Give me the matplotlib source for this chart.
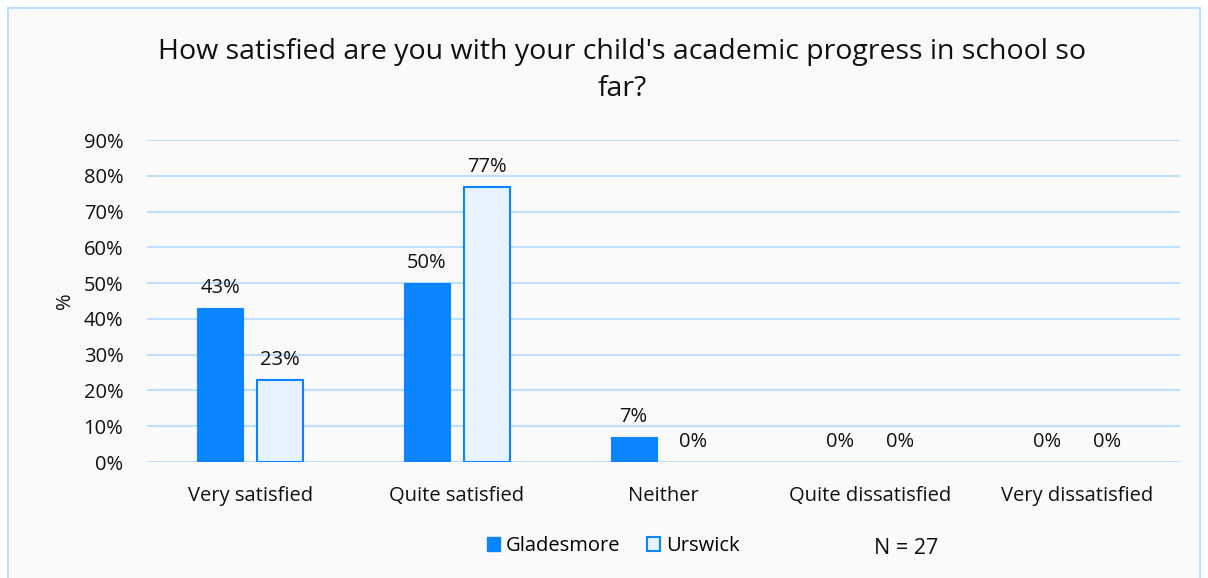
import matplotlib
matplotlib.use("Agg")
import matplotlib.pyplot as plt
from matplotlib.patches import Rectangle, Patch
import numpy as np

categories = ["Very satisfied", "Quite satisfied", "Neither", "Quite dissatisfied", "Very dissatisfied"]
gladesmore = [43, 50, 7, 0, 0]
urswick = [23, 77, 0, 0, 0]
series_names = ["Gladesmore", "Urswick"]
yticks = [0, 10, 20, 30, 40, 50, 60, 70, 80, 90]
title = "How satisfied are you with your child's academic progress in school so\nfar?"

plt.rcParams['font.family'] = ['Open Sans', 'DejaVu Sans']

blue = "#0A84FF"
light = "#E6F2FF"
grid = "#BEDFFF"
fs = 14.5

fig = plt.figure(figsize=(12.08, 5.78), dpi=100)
fig.patch.set_facecolor("white")
bg = Rectangle((8/1208, -0.05), (1200-8)/1208, 1 - 8/578 + 0.05, transform=fig.transFigure,
               facecolor="#FAFAFA", edgecolor=grid, linewidth=1.5, zorder=-10)
fig.patches.append(bg)

ax = fig.add_axes([147/1208, 1-462/578, (1180-147)/1208, (462-140)/578])
ax.set_facecolor("none")
x = np.arange(len(categories))
w = 0.223
off = 0.145
b1 = ax.bar(x - off, gladesmore, w, color=blue, edgecolor=blue,
            linewidth=[0.8 if v > 0 else 0 for v in gladesmore], zorder=3)
b2 = ax.bar(x + off, urswick, w, color=light, edgecolor=blue,
            linewidth=[1.5 if v > 0 else 0 for v in urswick], zorder=3)
for bars, vals in ((b1, gladesmore), (b2, urswick)):
    for r, v in zip(bars, vals):
        ax.annotate(f"{v}%", (r.get_x() + r.get_width()/2, v), xytext=(0, 7),
                    textcoords="offset points", ha="center", va="bottom", fontsize=fs, color="#111111")

ax.set_xlim(-0.5, len(categories) - 0.5)
ax.set_ylim(0, 90)
ax.set_yticks(yticks)
ax.set_yticklabels([f"{t}%" for t in yticks], fontsize=fs, color="#111111")
ax.set_xticks(x)
ax.set_xticklabels(categories, fontsize=fs, color="#111111")
ax.tick_params(length=0)
ax.tick_params(axis='x', pad=17)
ax.tick_params(axis='y', pad=17)
ax.yaxis.grid(True, color=grid, linewidth=1.5, zorder=0)
for s in ax.spines.values():
    s.set_visible(False)
ax.set_ylabel("%", fontsize=fs, labelpad=6, color="#111111")

fig.text(622/1208, 1-38/578, title, ha="center", va="top", fontsize=20.5, color="#111111",
         linespacing=1.45)

handles = [Patch(facecolor=blue, edgecolor=blue), Patch(facecolor=light, edgecolor=blue, linewidth=1.5)]
fig.legend(handles, series_names, loc="center", bbox_to_anchor=(613/1208, 1-546/578), ncol=2,
           frameon=False, fontsize=fs, handlelength=0.65, handleheight=0.65, handletextpad=0.3,
           columnspacing=1.3)
fig.text(906/1208, 1-549/578, "N = 27", ha="center", va="center", fontsize=15.5, color="#111111")

fig.savefig("out.png", dpi=100)
